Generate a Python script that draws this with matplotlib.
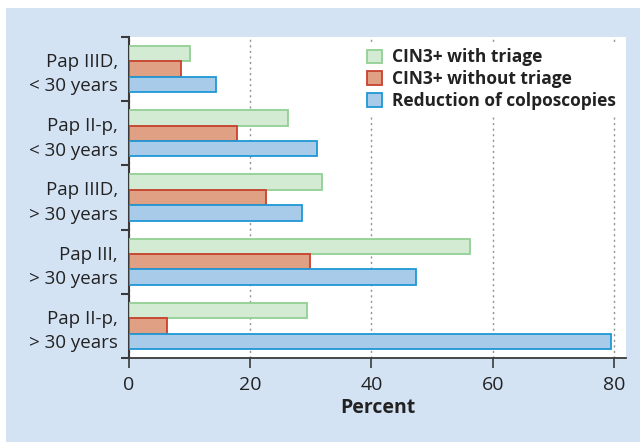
import numpy as np
import matplotlib.pyplot as plt
from matplotlib.patches import Rectangle, Patch

categories = ["Pap IIID,\n< 30 years", "Pap II-p,\n< 30 years", "Pap IIID,\n> 30 years",
              "Pap III,\n> 30 years", "Pap II-p,\n> 30 years"]
with_triage = [10.0, 26.3, 31.8, 56.3, 29.3]
without_triage = [8.5, 17.9, 22.6, 29.9, 6.2]
reduction_colpo = [14.4, 31.1, 28.5, 47.3, 79.5]
series_names = ["CIN3+ with triage", "CIN3+ without triage", "Reduction of colposcopies"]

plt.rcParams['font.family'] = ['Open Sans', 'DejaVu Sans']
text_col = '#222222'
panel_col = '#d4e3f4'
fills = ['#d3ead3', '#e0a084', '#a9cbea']
edges = ['#92d094', '#c9412e', '#1f98d6']

fig = plt.figure(figsize=(6.4, 4.42), dpi=100)
fig.patches.append(Rectangle((6 / 640, 0), 1, (442 - 8) / 442, transform=fig.transFigure,
                             facecolor=panel_col, edgecolor='none', zorder=-10))
ax = fig.add_axes([129 / 640, (442 - 358) / 442, (626 - 129) / 640, (358 - 37) / 442])

y = np.arange(len(categories))
h = 0.24
for k, vals in enumerate([with_triage, without_triage, reduction_colpo]):
    ax.barh(y + (k - 1) * h, vals, height=h, color=fills[k], edgecolor=edges[k],
            linewidth=1.3, label=series_names[k], zorder=3)

ax.set_ylim(len(categories) - 0.5, -0.5)
ax.set_xlim(0, 82)
ax.set_xticks([0, 20, 40, 60, 80])
ax.set_yticks(y)
ax.set_yticklabels(categories, fontsize=13.5, color=text_col, ha='right', linespacing=1.45)
ax.set_yticks(np.arange(len(categories) + 1) - 0.5, minor=True)
ax.tick_params(axis='y', which='major', length=0, pad=8)
ax.tick_params(axis='y', which='minor', length=6, width=1.5, color='#3a3a3a', direction='out')
ax.tick_params(axis='x', length=7, width=1.2, color='#3a3a3a', labelsize=14,
               labelcolor=text_col, pad=6)
ax.grid(axis='x', linestyle=(0, (1.5, 2.5)), color='#909090', linewidth=1, zorder=0)
ax.set_axisbelow(True)

for s in ['top', 'right']:
    ax.spines[s].set_visible(False)
ax.spines['left'].set_color('#3a3a3a')
ax.spines['left'].set_linewidth(1.5)
ax.spines['bottom'].set_color('#3a3a3a')
ax.spines['bottom'].set_linewidth(1.3)

ax.set_xlabel("Percent", fontsize=14, fontweight='bold', color=text_col, labelpad=3)

handles = [Patch(facecolor=fills[k], edgecolor=edges[k], linewidth=1.3) for k in range(3)]
leg = ax.legend(handles, series_names, loc='upper left', bbox_to_anchor=(0.447, 1.013),
                frameon=True, fancybox=False, fontsize=12.5, handlelength=0.85,
                handleheight=0.85, handletextpad=0.6, labelspacing=0.22, borderpad=0.4)
leg.get_frame().set_edgecolor('none')
leg.get_frame().set_facecolor('white')
leg.get_frame().set_alpha(1)
leg.set_zorder(5)
for t in leg.get_texts():
    t.set_fontweight('bold')
    t.set_color(text_col)

fig.savefig("out.png", dpi=100)
